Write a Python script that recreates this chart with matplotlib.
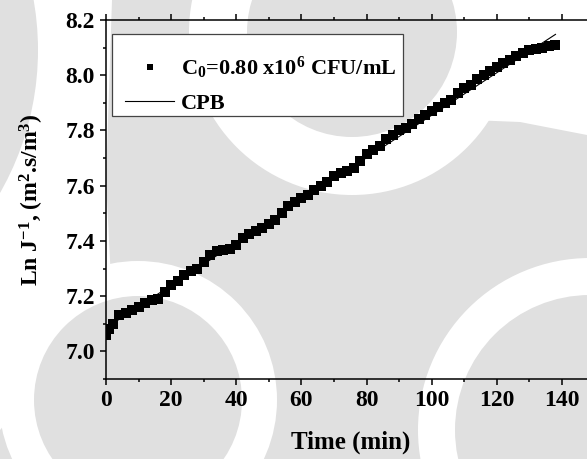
import matplotlib
matplotlib.use("Agg")
import matplotlib.pyplot as plt
from matplotlib.patches import Circle, Polygon, Rectangle
from matplotlib.ticker import MultipleLocator, FormatStrFormatter

plt.rcParams['font.family'] = ['Liberation Serif', 'DejaVu Serif']
plt.rcParams['font.weight'] = 'bold'
plt.rcParams['mathtext.fontset'] = 'custom'
plt.rcParams['mathtext.rm'] = 'Liberation Serif:bold'
plt.rcParams['mathtext.it'] = 'Liberation Serif:bold:italic'
plt.rcParams['mathtext.bf'] = 'Liberation Serif:bold'

# measured data, every 2 min
time_min = [0, 1, 2, 4, 6, 8, 10, 12, 14, 16, 18, 20, 22, 24, 26, 28, 30, 32, 34, 36,
            38, 40, 42, 44, 46, 48, 50, 52, 54, 56, 58, 60, 62, 64, 66, 68, 70, 72, 74,
            76, 78, 80, 82, 84, 86, 88, 90, 92, 94, 96, 98, 100, 102, 104, 106, 108,
            110, 112, 114, 116, 118, 120, 122, 124, 126, 128, 130, 132, 134, 136, 138]
ln_inv_flux = [7.06, 7.08, 7.10, 7.13, 7.14, 7.15, 7.16, 7.175, 7.185, 7.19, 7.215, 7.24,
               7.255, 7.275, 7.29, 7.30, 7.325, 7.35, 7.365, 7.368, 7.372, 7.385, 7.41,
               7.425, 7.435, 7.445, 7.46, 7.475, 7.50, 7.525, 7.54, 7.555, 7.565, 7.585,
               7.60, 7.615, 7.635, 7.645, 7.655, 7.665, 7.69, 7.715, 7.73, 7.745, 7.77,
               7.785, 7.80, 7.81, 7.825, 7.84, 7.855, 7.87, 7.885, 7.898, 7.91, 7.935,
               7.955, 7.965, 7.985, 8.00, 8.015, 8.03, 8.045, 8.055, 8.07, 8.08, 8.09,
               8.095, 8.10, 8.105, 8.11]

# CPB model line (end points)
cpb_time = [0, 138]
cpb_value = [7.085, 8.148]

series_label = r"C$_0$=0.80 x10$^6$ CFU/mL"
model_label = "CPB"

fig = plt.figure(figsize=(5.87, 4.59), dpi=100)

# faint watermark behind the chart, in pixel coordinates
bg = fig.add_axes([0, 0, 1, 1], zorder=0)
bg.set_xlim(0, 587)
bg.set_ylim(459, 0)
bg.axis('off')
grey = '#e0e0e0'
bg.add_patch(Polygon([(112, 0), (400, 0), (470, 120), (520, 122), (587, 135), (587, 459),
                      (0, 459), (0, 430), (112, 300), (106, 180)], closed=True, fc=grey, ec='none'))
bg.add_patch(Circle((-250, 50), 288, fc=grey, ec='none'))
for cx, cy, r_out, r_in in [(352, 32, 163, 105), (138, 400, 139, 104), (590, 430, 172, 135)]:
    bg.add_patch(Circle((cx, cy), r_out, fc='white', ec='none'))
    bg.add_patch(Circle((cx, cy), r_in, fc=grey, ec='none'))

ax = fig.add_axes([0.1806, 0.1743, 0.8323, 0.7821], zorder=1)
ax.patch.set_alpha(0)

ax.plot(cpb_time, cpb_value, color='black', lw=0.8, label=model_label, zorder=2)
ax.plot(time_min, ln_inv_flux, ls='none', marker='s', ms=6.6, mew=0, color='black',
        label=series_label, zorder=3)

ax.set_xlim(0, 150)
ax.set_ylim(6.9, 8.2)
ax.xaxis.set_major_locator(MultipleLocator(20))
ax.xaxis.set_minor_locator(MultipleLocator(10))
ax.yaxis.set_major_locator(MultipleLocator(0.2))
ax.yaxis.set_minor_locator(MultipleLocator(0.1))
ax.yaxis.set_major_formatter(FormatStrFormatter('%.1f'))

ax.tick_params(which='both', direction='out', width=1.1, labelsize=17)
ax.tick_params(which='major', length=4, pad=4)
ax.tick_params(which='minor', length=2.5)
ax.tick_params(which='both', top=True, labeltop=False)
for s in ax.spines.values():
    s.set_linewidth(1.1)

ax.set_xlabel('Time (min)', fontsize=18, fontweight='bold', labelpad=14)
ax.set_ylabel(r"Ln J$^{-1}$, (m$^2$.s/m$^3$)", fontsize=17, fontweight='bold', labelpad=14)

# legend box drawn separately so the entries can sit where they do in the original
ax.add_patch(Rectangle((0.0123, 0.7326), 0.5956, 0.2284, transform=ax.transAxes,
                       fc='white', ec='#444444', lw=0.9, zorder=4))
handles, labels = ax.get_legend_handles_labels()
leg = ax.legend(handles[::-1], labels[::-1], loc='upper left', bbox_to_anchor=(0.0123, 0.94),
                borderaxespad=0, fontsize=16, frameon=False, handlelength=2.2,
                handletextpad=0.3, borderpad=0.6, labelspacing=0.55, markerscale=0.7)
leg.set_zorder(5)

fig.savefig('out.png', dpi=100)
